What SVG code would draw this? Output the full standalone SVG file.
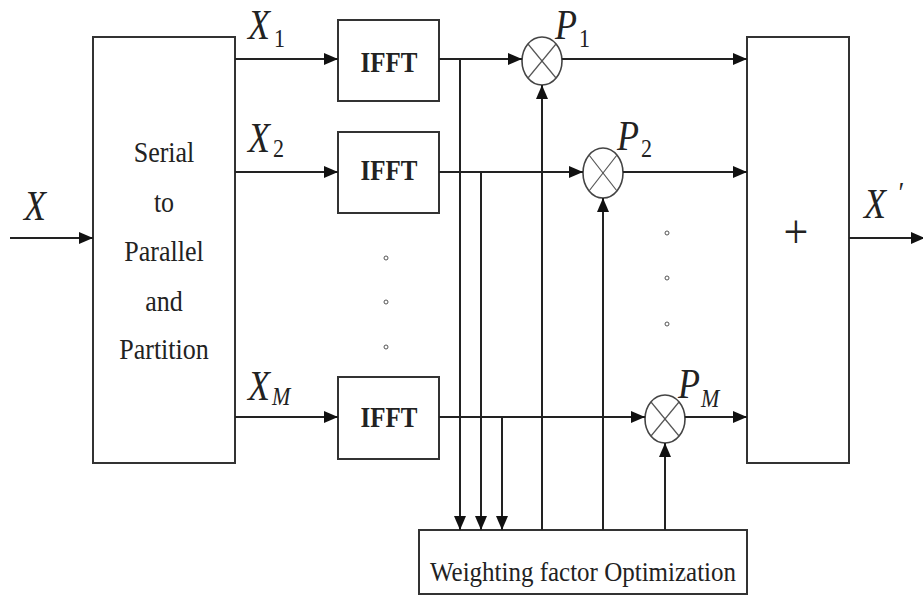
<svg xmlns="http://www.w3.org/2000/svg" width="923" height="597" viewBox="0 0 923 597">
<style>
.box{fill:#fff;stroke:#333;stroke-width:2}
.ln{fill:none;stroke:#222;stroke-width:2}
.ell{fill:#fff;stroke:#444;stroke-width:1.6}
.cx{stroke:#555;stroke-width:1.2}
.t{font-family:"Liberation Serif","Times New Roman",serif;fill:#222}
.lbl{font-family:"Liberation Serif","Times New Roman",serif;font-style:italic;fill:#222}
.dot{fill:none;stroke:#555;stroke-width:1}
</style>
<defs>
<marker id="ah" viewBox="0 0 14 12" markerWidth="14" markerHeight="12" refX="14" refY="6" orient="auto" markerUnits="userSpaceOnUse">
<path d="M0,0 L14,6 L0,12 z" fill="#111"/>
</marker>
</defs>
<rect width="923" height="597" fill="#fff"/>

<g id="sp">
<rect class="box" x="93" y="37" width="142" height="426"/>
<g class="t" font-size="26" text-anchor="middle">
<text transform="translate(164 162) scale(1 1.16)">Serial</text>
<text transform="translate(164 212) scale(1 1.16)">to</text>
<text transform="translate(164 261) scale(1 1.16)">Parallel</text>
<text transform="translate(164 311) scale(1 1.16)">and</text>
<text transform="translate(164 359) scale(1 1.16)">Partition</text>
</g>
</g>

<g id="ifft1">
<rect class="box" x="338" y="20" width="101" height="81"/>
<text class="t" font-size="25" font-weight="bold" text-anchor="middle" transform="translate(389 72) scale(1 1.22)">IFFT</text>
</g>
<g id="ifft2">
<rect class="box" x="338" y="132" width="101" height="81"/>
<text class="t" font-size="25" font-weight="bold" text-anchor="middle" transform="translate(389 180) scale(1 1.22)">IFFT</text>
</g>
<g id="ifftM">
<rect class="box" x="338" y="377" width="101" height="82"/>
<text class="t" font-size="25" font-weight="bold" text-anchor="middle" transform="translate(389 427) scale(1 1.22)">IFFT</text>
</g>

<g id="mul1">
<ellipse class="ell" cx="542" cy="61" rx="20" ry="24"/>
<line class="cx" x1="528" y1="44" x2="556" y2="78"/>
<line class="cx" x1="556" y1="44" x2="528" y2="78"/>
</g>
<g id="mul2">
<ellipse class="ell" cx="603" cy="173" rx="20" ry="25"/>
<line class="cx" x1="589" y1="155" x2="617" y2="191"/>
<line class="cx" x1="617" y1="155" x2="589" y2="191"/>
</g>
<g id="mulM">
<ellipse class="ell" cx="665" cy="419" rx="20" ry="24"/>
<line class="cx" x1="651" y1="402" x2="679" y2="436"/>
<line class="cx" x1="679" y1="402" x2="651" y2="436"/>
</g>

<g id="sum">
<rect class="box" x="747" y="37" width="102" height="426"/>
<text class="t" font-size="44" text-anchor="middle" transform="translate(796 248) scale(1 1.1)">+</text>
</g>

<g id="wfo">
<rect class="box" x="419" y="530" width="328" height="64"/>
<text class="t" font-size="25" text-anchor="middle" transform="translate(583 581) scale(1 1.1)">Weighting factor Optimization</text>
</g>

<g id="dots">
<circle class="dot" cx="386" cy="258" r="2"/>
<circle class="dot" cx="386" cy="302" r="2"/>
<circle class="dot" cx="386" cy="347" r="2"/>
<circle class="dot" cx="667" cy="233" r="2"/>
<circle class="dot" cx="667" cy="278" r="2"/>
<circle class="dot" cx="667" cy="324" r="2"/>
</g>

<g id="connectors">
<line class="ln" x1="10" y1="238" x2="93" y2="238" marker-end="url(#ah)"/>
<line class="ln" x1="235" y1="59" x2="338" y2="59" marker-end="url(#ah)"/>
<line class="ln" x1="235" y1="172" x2="338" y2="172" marker-end="url(#ah)"/>
<line class="ln" x1="235" y1="417" x2="338" y2="417" marker-end="url(#ah)"/>
<line class="ln" x1="439" y1="59" x2="522" y2="59" marker-end="url(#ah)"/>
<line class="ln" x1="439" y1="172" x2="583" y2="172" marker-end="url(#ah)"/>
<line class="ln" x1="439" y1="417" x2="645" y2="417" marker-end="url(#ah)"/>
<line class="ln" x1="562" y1="59" x2="747" y2="59" marker-end="url(#ah)"/>
<line class="ln" x1="623" y1="172" x2="747" y2="172" marker-end="url(#ah)"/>
<line class="ln" x1="685" y1="417" x2="747" y2="417" marker-end="url(#ah)"/>
<line class="ln" x1="460" y1="59" x2="460" y2="530" marker-end="url(#ah)"/>
<line class="ln" x1="481" y1="172" x2="481" y2="530" marker-end="url(#ah)"/>
<line class="ln" x1="502" y1="417" x2="502" y2="530" marker-end="url(#ah)"/>
<line class="ln" x1="542" y1="530" x2="542" y2="85" marker-end="url(#ah)"/>
<line class="ln" x1="603" y1="530" x2="603" y2="198" marker-end="url(#ah)"/>
<line class="ln" x1="665" y1="530" x2="665" y2="443" marker-end="url(#ah)"/>
<line class="ln" x1="849" y1="238" x2="925" y2="238" marker-end="url(#ah)"/>
</g>

<g id="labels" class="lbl">
<text transform="translate(24 220) scale(1 1.15)" font-size="36">X</text>
<text transform="translate(248 39) scale(1 1.15)" font-size="36">X</text>
<text transform="translate(274 47) scale(1 1.15)" font-size="22" font-style="normal">1</text>
<text transform="translate(248 152) scale(1 1.15)" font-size="36">X</text>
<text transform="translate(273 157) scale(1 1.15)" font-size="22" font-style="normal">2</text>
<text transform="translate(248 400) scale(1 1.15)" font-size="36">X</text>
<text transform="translate(272 405) scale(1 1.15)" font-size="22">M</text>
<text transform="translate(555 39) scale(1 1.15)" font-size="36">P</text>
<text transform="translate(579 47) scale(1 1.15)" font-size="22" font-style="normal">1</text>
<text transform="translate(617 150) scale(1 1.15)" font-size="36">P</text>
<text transform="translate(641 157) scale(1 1.15)" font-size="22" font-style="normal">2</text>
<text transform="translate(678 398) scale(1 1.15)" font-size="36">P</text>
<text transform="translate(701 407) scale(1 1.15)" font-size="22">M</text>
<text transform="translate(864 218) scale(1 1.15)" font-size="36">X</text>
<text transform="translate(897 202) scale(1 1.15)" font-size="26">′</text>
</g>
</svg>
